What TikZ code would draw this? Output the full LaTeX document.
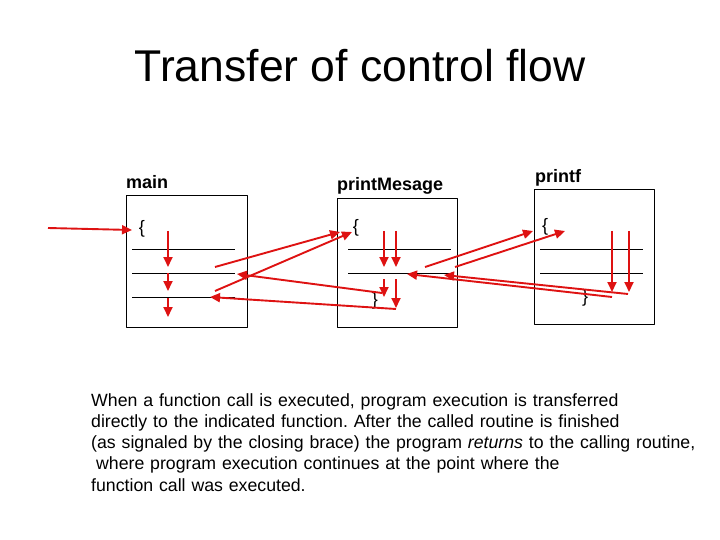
\documentclass[tikz,border=0pt]{standalone}
\usepackage{fontspec}
\setmainfont{Liberation Sans}
\usetikzlibrary{arrows.meta}

\definecolor{flowred}{RGB}{222,18,18}

\tikzset{
  frame/.style={draw, line width=0.9pt, anchor=north west, inner sep=0pt},
  heading/.style={font=\fontsize{44.5}{54}\selectfont, anchor=base, inner sep=0pt},
  fname/.style={font=\fontsize{18}{22}\selectfont\bfseries, anchor=base west, inner sep=0pt},
  brace/.style={font=\fontsize{18}{22}\selectfont, inner sep=0pt},
  stmt/.style={line width=0.8pt},
  flow/.style={draw=flowred, line width=1.9pt, -{Triangle[length=10pt,width=9pt]}}
}

\begin{document}
\frenchspacing
\begin{tikzpicture}[x=1pt, y=-1pt, line join=round]
  \useasboundingbox (0,0) rectangle (720,540);

  \node[heading] (title) at (360,82) {Transfer of control flow};

  % the three routines
  \foreach \name/\px/\py/\w/\h in {main/126/195/121/132, pmsg/337/198/120/129, pf/534/189/120/135}
    \node[frame, minimum width=\w pt, minimum height=\h pt] (\name) at (\px,\py) {};
  \node[fname] (mainlbl) at (126,189) {main};
  \node[fname] (pmsglbl) at (337,191) {printMesage};
  \node[fname] (pflbl) at (535,183) {printf};

  % statements
  \foreach \xa/\xb/\y in {132/235/249, 132/235/273, 132/235/297, 348/451/249, 348/451/273, 540/643/249, 540/643/273}
    \draw[stmt] (\xa,\y) -- (\xb,\y);
  \node[brace] (mainopen) at (142,229) {\{};
  \node[brace] (pmsgopen) at (356,228) {\{};
  \node[brace] (pmsgclose) at (375,301) {\}};
  \node[brace] (pfopen) at (545,227) {\{};
  \node[brace] (pfclose) at (585,298) {\}};

  % points of the flow
  \foreach \n/\px/\py in {e0/48/228, e1/132/230,
      md1a/168/231, md1b/168/267, md2a/168/273, md2b/168/291, md3a/168/298, md3b/168/317,
      c1a/215/267, c1b/340/232, c2a/215/291, c2b/352/232,
      pd1a/384/231, pd1b/384/267, pd2a/396/231, pd2b/396/267,
      pd3a/384/279, pd3b/384/297, pd4a/396/279, pd4b/396/308,
      r1a/382/293, r1b/237/274, r2a/396/309, r2b/210/297,
      c3a/425/267, c3b/533/231, c4a/455/267, c4b/565/231,
      fd1a/612/231, fd1b/612/292, fd2a/629/231, fd2b/629/292,
      r3a/612/297, r3b/407/274, r4a/628/294, r4b/444/275}
    \coordinate (\n) at (\px,\py);

  \foreach \a/\b in {e0/e1, md1a/md1b, md2a/md2b, md3a/md3b, c1a/c1b, c2a/c2b,
      pd1a/pd1b, pd2a/pd2b, pd3a/pd3b, pd4a/pd4b, r1a/r1b, r2a/r2b,
      c3a/c3b, c4a/c4b, fd1a/fd1b, fd2a/fd2b, r3a/r3b, r4a/r4b}
    \draw[flow] (\a) -- (\b);

  \node[anchor=base west, align=left, text width=640pt, inner sep=0pt,
        font=\fontsize{17.7}{21.3}\selectfont] (note) at (91,406)
    {When a function call is executed, program execution is transferred\\
     directly to the indicated function. After the called routine is finished\\
     (as signaled by the closing brace) the program \textit{returns} to the calling routine,\\
     \hspace*{0.28em}where program execution continues at the point where the\\
     function call was executed.};
\end{tikzpicture}
\end{document}
